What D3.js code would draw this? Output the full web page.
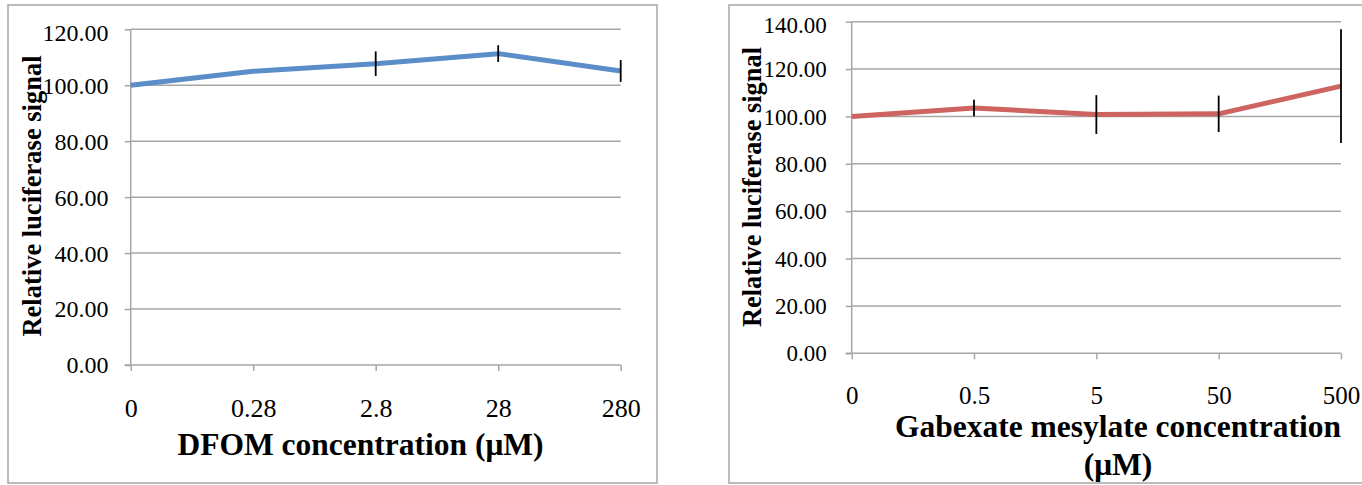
<!DOCTYPE html>
<html>
<head>
<meta charset="utf-8">
<script src="https://cdn.jsdelivr.net/npm/d3@7/dist/d3.min.js"></script>
<style>
  html, body { margin: 0; padding: 0; background: #fff; }
  svg { display: block; }
  text { font-family: "Liberation Serif", "Times New Roman", serif; fill: #000; }
</style>
</head>
<body>
<svg id="chart" width="1362" height="485"></svg>
<script>
// ---- Data ----
const dfomCategories = ["0", "0.28", "2.8", "28", "280"];
const dfomValues = [100.0, 105.0, 107.7, 111.3, 105.1];
const dfomErrors = [0, 0, 4.4, 3.0, 3.9];
const dfomYTicks = [0, 20, 40, 60, 80, 100, 120];

const gabCategories = ["0", "0.5", "5", "50", "500"];
const gabValues = [100.0, 103.6, 100.8, 101.1, 112.8];
const gabErrors = [0, 3.5, 8.2, 7.7, 24.0];
const gabYTicks = [0, 20, 40, 60, 80, 100, 120, 140];

const svg = d3.select("#chart");
const gridColor = "#a6a6a6";
const fmt = d3.format(".2f");

function drawPanel(cfg) {
  const g = svg.append("g");
  // frame
  g.append("rect")
    .attr("x", cfg.frame[0]).attr("y", cfg.frame[1])
    .attr("width", cfg.frame[2]).attr("height", cfg.frame[3])
    .attr("fill", "#fff").attr("stroke", "#ababab").attr("stroke-width", 1.6);

  const x = d3.scalePoint().domain(cfg.categories).range([cfg.left, cfg.right]).padding(0);
  const y = d3.scaleLinear().domain([0, cfg.yMax]).range([cfg.bottom, cfg.top]);

  // gridlines
  g.append("g").selectAll("line").data(cfg.yTicks.filter(d => d > 0)).join("line")
    .attr("x1", cfg.left).attr("x2", cfg.right)
    .attr("y1", d => y(d)).attr("y2", d => y(d))
    .attr("stroke", gridColor).attr("stroke-width", 1.5);

  // y axis
  const ya = g.append("g").attr("transform", `translate(${cfg.left},0)`)
    .call(d3.axisLeft(y).tickValues(cfg.yTicks).tickFormat(fmt).tickSize(6).tickPadding(4));
  ya.select(".domain").attr("stroke", gridColor).attr("stroke-width", 1.5).attr("d", `M0,${cfg.top}V${cfg.bottom}`);
  ya.selectAll(".tick line").attr("stroke", gridColor).attr("stroke-width", 1.5);
  ya.selectAll(".tick text").attr("font-size", cfg.yFont).attr("fill", "#000")
    .attr("font-family", "Liberation Serif")
    .attr("dy", d => d === cfg.yMax ? "0.45em" : "0.33em")
    .attr("x", cfg.yLabelRight - cfg.left);

  // x axis
  const xa = g.append("g").attr("transform", `translate(0,${cfg.bottom})`)
    .call(d3.axisBottom(x).tickSize(6).tickPadding(4));
  xa.select(".domain").attr("stroke", gridColor).attr("stroke-width", 1.5).attr("d", `M${cfg.left - 6},0H${cfg.right}`);
  xa.selectAll(".tick line").attr("stroke", gridColor).attr("stroke-width", 1.5);
  xa.selectAll(".tick text").attr("font-size", cfg.xFont).attr("fill", "#000")
    .attr("font-family", "Liberation Serif").attr("dy", null).attr("y", cfg.xLabelOffset);

  // line
  const line = d3.line().x((d, i) => x(cfg.categories[i])).y(d => y(d));
  g.append("path").datum(cfg.values).attr("d", line)
    .attr("fill", "none").attr("stroke", cfg.color).attr("stroke-width", 5)
    .attr("stroke-linejoin", "round");

  // error bars
  g.append("g").selectAll("line").data(cfg.values.map((v, i) => ({ v, e: cfg.errors[i], c: cfg.categories[i] })).filter(d => d.e > 0))
    .join("line")
    .attr("x1", d => x(d.c)).attr("x2", d => x(d.c))
    .attr("y1", d => y(d.v + d.e)).attr("y2", d => y(d.v - d.e))
    .attr("stroke", "#000").attr("stroke-width", 1.8);

  // y title
  g.append("text")
    .attr("transform", `translate(${cfg.yTitleX},${cfg.yTitleY}) rotate(-90)`)
    .attr("text-anchor", "middle").attr("font-weight", "bold").attr("font-size", cfg.yTitleFont)
    .text("Relative luciferase signal");

  // x title
  const xt = g.append("text").attr("text-anchor", "middle").attr("font-weight", "bold")
    .attr("font-size", cfg.xTitleFont);
  cfg.xTitle.forEach((t, i) => {
    xt.append("tspan").attr("x", cfg.xTitleX).attr("y", cfg.xTitleY + i * cfg.xTitleLine).text(t);
  });
}

drawPanel({
  frame: [8, 5, 649, 478],
  categories: dfomCategories, values: dfomValues, errors: dfomErrors, yTicks: dfomYTicks,
  yMax: 120, left: 130.7, right: 620.7, top: 29.3, bottom: 365,
  yLabelRight: 108.5, yFont: 24, xFont: 26, xLabelOffset: 52,
  color: "#5b8dc9",
  yTitleX: 41, yTitleY: 196, yTitleFont: 26.5,
  xTitle: ["DFOM concentration (μM)"], xTitleX: 360.5, xTitleY: 455, xTitleFont: 31.5, xTitleLine: 0
});

drawPanel({
  frame: [729, 5, 660, 478],
  categories: gabCategories, values: gabValues, errors: gabErrors, yTicks: gabYTicks,
  yMax: 140, left: 851.7, right: 1341, top: 21.7, bottom: 353.3,
  yLabelRight: 826.7, yFont: 23, xFont: 25, xLabelOffset: 51,
  color: "#cd6460",
  yTitleX: 761, yTitleY: 187, yTitleFont: 26.4,
  xTitle: ["Gabexate mesylate concentration", "(μM)"], xTitleX: 1118, xTitleY: 437, xTitleFont: 31.5, xTitleLine: 38
});
</script>
</body>
</html>
